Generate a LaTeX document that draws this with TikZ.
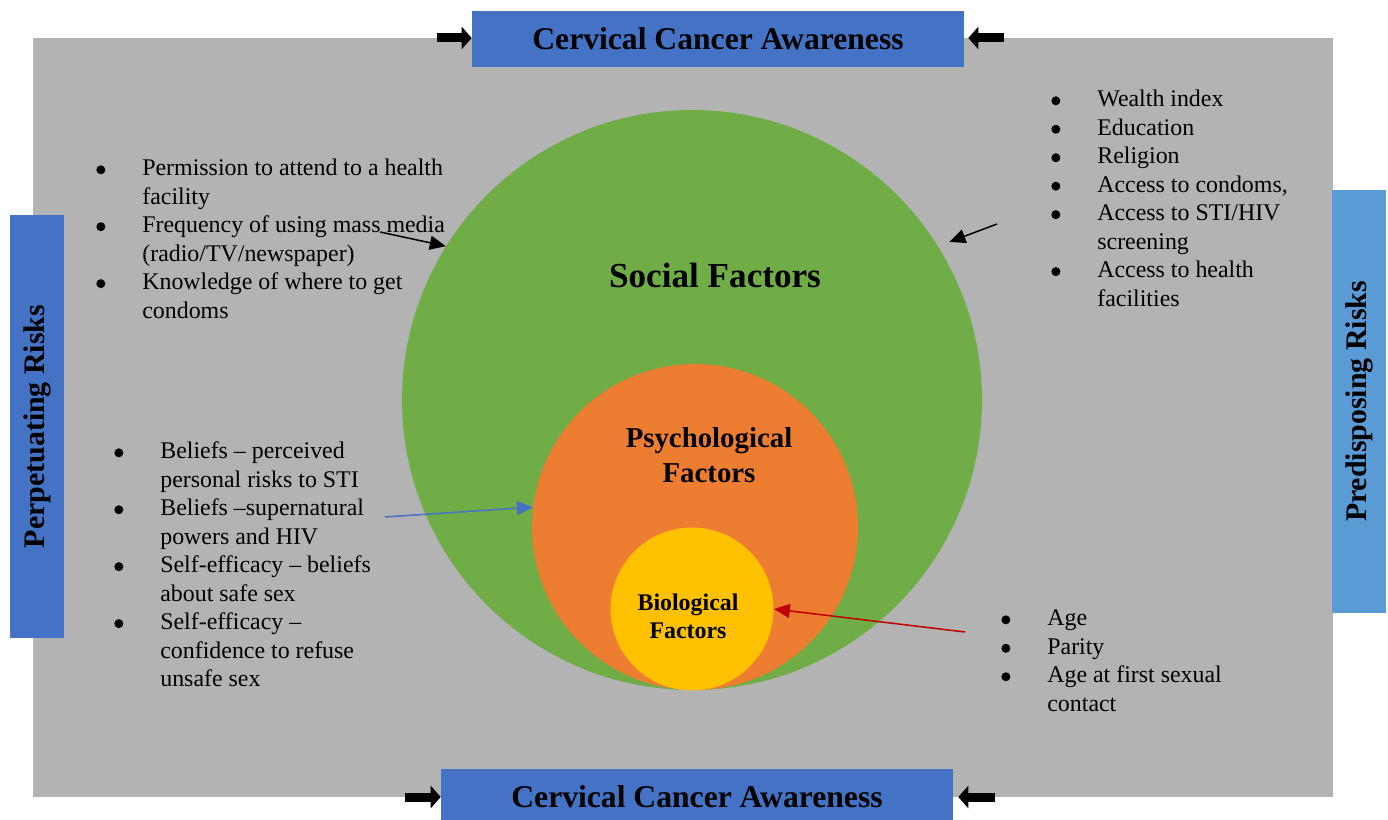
\documentclass[tikz,border=0pt]{standalone}
\usepackage{fontspec}
\setmainfont{Liberation Serif}
\usepackage{enumitem}
\usetikzlibrary{arrows.meta}

\definecolor{bggray}{RGB}{179,179,179}
\definecolor{socialgreen}{RGB}{112,173,71}
\definecolor{psychorange}{RGB}{237,125,49}
\definecolor{bioyellow}{RGB}{255,192,0}
\definecolor{boxblue}{RGB}{68,114,196}
\definecolor{boxlightblue}{RGB}{91,155,213}
\definecolor{arrowred}{RGB}{192,0,0}

\tikzset{
  titlebox/.style={fill=boxblue, inner sep=0pt, font=\fontsize{18}{20}\selectfont\bfseries},
  riskbox/.style={inner sep=0pt, rotate=90, minimum width=8.46cm, minimum height=1.08cm,
    font=\fontsize{17}{19}\selectfont\bfseries},
  fatarrow/.style={line width=0.18cm, -{Triangle[length=0.2cm,width=0.44cm]}},
  thinarrow/.style={line width=0.03cm, -{Triangle[length=0.32cm,width=0.28cm]}},
  factorcircle/.style={circle, inner sep=0pt},
  bulletlist/.style={anchor=north west, inner sep=0pt, text width=8cm,
    font=\fontsize{13.6}{16.2}\selectfont},
}

\newcommand{\factordot}{\raisebox{0.03cm}{\tikz\fill (0,0) circle (0.09cm);}}
\newenvironment{factorlist}{\raggedright\spaceskip=0.25em\relax
  \begin{itemize}[leftmargin=0.92cm, labelwidth=0.2cm,
  labelsep=0.72cm, align=left, label=\factordot, itemsep=0pt, parsep=0pt,
  topsep=0pt, partopsep=0pt]}{\end{itemize}}

\begin{document}
\begin{tikzpicture}[x=0.02cm, y=-0.02cm]
% \clip (0,0) rectangle (1388,820);
\useasboundingbox (0,0) rectangle (1388,820);

% Drawing background
\fill [bggray] (33,38) rectangle (1333,797);%

% Drawing circles social psych bio
\node [factorcircle, fill=socialgreen, minimum size=11.6cm] (social) at (692,400) {};%
\node [factorcircle, fill=psychorange, minimum size=6.52cm] (psych) at (695,527) {};%
\node [factorcircle, fill=bioyellow, minimum size=3.26cm] (bio) at (692,609) {};%

% Labelling circles
\node [font=\fontsize{20}{22}\selectfont\bfseries] (sociallabel) at (715,275) {Social Factors};%
\node [align=center, font=\fontsize{16.4}{19.9}\selectfont\bfseries] (psychlabel) at (709,455) {Psychological\\Factors};%
\node [align=center, font=\fontsize{13.6}{15.9}\selectfont\bfseries] (biolabel) at (688,616) {Biological\\Factors};%

% Drawing boxes top bottom left right
\node [titlebox, minimum width=9.84cm, minimum height=1.12cm] (topbox) at (718,39) {Cervical Cancer Awareness};%
\node [titlebox, minimum width=10.24cm, minimum height=1.12cm] (botbox) at (697,797) {Cervical Cancer Awareness};%
\node [riskbox, fill=boxblue] (leftbox) at (37,426.5) {Perpetuating Risks};%
\node [riskbox, fill=boxlightblue] (rightbox) at (1359,401.5) {Predisposing Risks};%

% Drawing arrows to awareness boxes
\coordinate (topleft) at (437,38);%
\coordinate (topright) at (1004,38);%
\coordinate (botleft) at (405,797);%
\coordinate (botright) at (995,797);%
\draw [fatarrow] (topleft) -- (topleft -| topbox.west);%
\draw [fatarrow, shorten >=0.08cm] (topright) -- (topright -| topbox.east);%
\draw [fatarrow] (botleft) -- (botbox.west);%
\draw [fatarrow, shorten >=0.1cm] (botright) -- (botbox.east);%

% Drawing arrows to circles
\coordinate (mediastart) at (380,232);%
\coordinate (wealthstart) at (997,224);%
\coordinate (beliefstart) at (385,517);%
\coordinate (agestart) at (965,632);%
\draw [thinarrow] (mediastart) -- (social.148);%
\draw [thinarrow, shorten >=0.24cm] (wealthstart) -- (social.32);%
\draw [thinarrow, boxblue] (beliefstart) -- (psych.173);%
\draw [thinarrow, arrowred] (agestart) -- (bio.east);%

% Writing lists of factors
\node [bulletlist] (accesslist) at (96,147) {\begin{factorlist}
  \item Permission to attend to a health\\ facility
  \item Frequency of using mass media\\ (radio/TV/newspaper)
  \item Knowledge of where to get\\ condoms
\end{factorlist}};%
\node [bulletlist] (wealthlist) at (1051,78) {\begin{factorlist}
  \item Wealth index
  \item Education
  \item Religion
  \item Access to condoms,
  \item Access to STI/HIV\\ screening
  \item Access to health\\ facilities
\end{factorlist}};%
\node [bulletlist] (belieflist) at (114,430) {\begin{factorlist}
  \item Beliefs – perceived\\ personal risks to STI
  \item Beliefs –supernatural\\ powers and HIV
  \item Self-efficacy – beliefs\\ about safe sex
  \item Self-efficacy –\\ confidence to refuse\\ unsafe sex
\end{factorlist}};%
\node [bulletlist] (agelist) at (1001,597) {\begin{factorlist}
  \item Age
  \item Parity
  \item Age at first sexual\\ contact
\end{factorlist}};%
\end{tikzpicture}
\end{document}
